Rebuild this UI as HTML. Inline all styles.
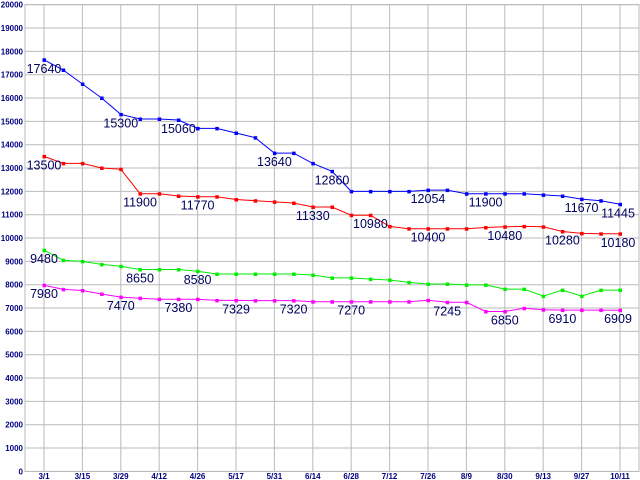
<!DOCTYPE html>
<html><head><meta charset="utf-8"><style>
body{margin:0;background:#fff}
svg{display:block}
.t{font-family:"Liberation Sans",sans-serif;font-size:8px;font-weight:bold;fill:#000080}
.l{font-family:"Liberation Sans",sans-serif;font-size:12.5px;fill:#000060}
</style></head><body>
<svg id="s" width="640" height="480" xmlns="http://www.w3.org/2000/svg"></svg>
<script>
const s=document.getElementById('s');
const Y=v=>4.7+(20000-v)*0.023333;
const X=i=>44+i*19.2;
let h='<rect x="25" y="4.5" width="614" height="467" fill="#fff" stroke="#bbb"/>';
for(let v=0;v<=20000;v+=1000){const y=Y(v).toFixed(1);h+=`<line x1="25" x2="639" y1="${y}" y2="${y}" stroke="#bbb"/>`;h+=`<text class="t" x="23" y="${+y+3}" text-anchor="end">${v}</text>`;}
const labs=['3/1','3/15','3/29','4/12','4/26','5/17','5/31','6/14','6/28','7/12','7/26','8/9','8/30','9/13','9/27','10/11'];
labs.forEach((t,k)=>{const x=X(2*k).toFixed(1);h+=`<line x1="${x}" x2="${x}" y1="4.5" y2="471" stroke="#bbb"/>`;h+=`<text class="t" x="${x}" y="479" text-anchor="middle">${t}</text>`;});
const S=[
['#0000ff',[17640,17200,16600,16000,15300,15100,15100,15060,14700,14700,14500,14300,13640,13640,13200,12860,12000,12000,12000,12000,12054,12054,11900,11900,11900,11900,11850,11800,11670,11600,11445],[0,4,7,12,15,20,23,28,30]],
['#ff0000',[13500,13200,13200,13000,12950,11900,11900,11800,11770,11770,11650,11600,11550,11500,11330,11330,10980,10980,10500,10400,10400,10400,10400,10450,10480,10500,10480,10280,10200,10180,10180],[0,5,8,14,17,20,24,27,30]],
['#00ee00',[9480,9050,9000,8870,8790,8650,8650,8650,8580,8460,8460,8460,8460,8460,8415,8290,8290,8240,8200,8100,8030,8030,7990,7990,7810,7810,7510,7770,7510,7770,7770],[0,5,8]],
['#ff00ff',[7980,7800,7750,7600,7470,7420,7380,7380,7380,7329,7329,7320,7320,7320,7270,7270,7270,7270,7270,7270,7330,7245,7245,6850,6850,6990,6930,6910,6910,6910,6909],[0,4,7,10,13,16,21,24,27,30]]
];
S.forEach(([c,d,L])=>{
 h+=`<polyline fill="none" stroke="${c}" stroke-width="1" points="${d.map((v,i)=>X(i).toFixed(1)+','+Y(v).toFixed(1)).join(' ')}"/>`;
 d.forEach((v,i)=>{h+=`<rect x="${(X(i)-1.5).toFixed(1)}" y="${(Y(v)-1.5).toFixed(1)}" width="3.5" height="3.5" fill="${c}"/>`;});
 L.forEach(i=>{let x=X(i);x=Math.max(19,Math.min(618,x));h+=`<text class="l" x="${x.toFixed(1)}" y="${(Y(d[i])+13).toFixed(1)}" text-anchor="middle">${d[i]}</text>`;});
});
s.innerHTML=h;
</script>
</body></html>
